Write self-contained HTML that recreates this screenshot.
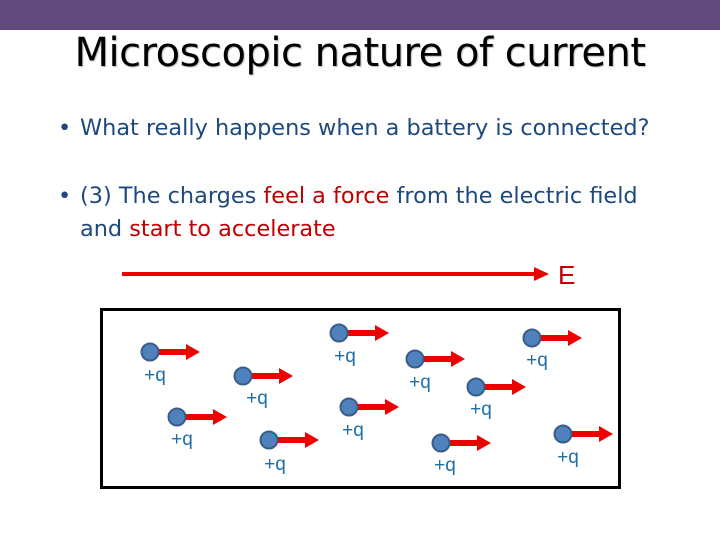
<!DOCTYPE html>
<html><head><style>
body{margin:0;width:720px;height:540px;background:#fff;position:relative;overflow:hidden;font-family:"Liberation Sans",sans-serif}
.bar{position:absolute;left:0;top:0;width:720px;height:30px;background:#604a7b}
.t{position:absolute;left:0;width:720px;top:30px;text-align:center;font-size:40px;color:#000;font-family:"DejaVu Sans","Liberation Sans",sans-serif;letter-spacing:-0.5px;text-shadow:1px 1px 1px #bbb}
.b{position:absolute;font-size:22.4px;color:#1f497d;font-family:"DejaVu Sans","Liberation Sans",sans-serif;line-height:33px}
.r{color:#c00000}
.d{position:absolute;left:-22px}
</style></head><body>
<div class="bar"></div>
<div class="t">Microscopic nature of current</div>
<div class="b" style="left:80px;top:112px"><span class="d">•</span>What really happens when a battery is connected?</div>
<div class="b" style="left:80px;top:180px"><span class="d">•</span>(3) The charges <span class="r">feel a force</span> from the electric field<br>and <span class="r">start to accelerate</span></div>
<svg width="720" height="540" style="position:absolute;left:0;top:0">
<defs><g id="c">
<rect x="8" y="-3" width="32" height="6" fill="#e00"/>
<polygon points="36,-8 50,0 36,8" fill="#e00"/>
<circle r="8.5" fill="#4f81bd" stroke="#385d8a" stroke-width="2"/>
</g></defs>
<line x1="122" y1="274" x2="536" y2="274" stroke="#e00" stroke-width="4"/>
<polygon points="534,267 549,274 534,281" fill="#e00"/>
<text x="558" y="284" font-size="26" fill="#c00000" font-family="Liberation Sans,sans-serif">E</text>
<rect x="101.5" y="309.5" width="518" height="178" fill="none" stroke="#000" stroke-width="3"/>
<g font-size="19" fill="#1f6fa5" font-family="Liberation Sans,sans-serif" text-anchor="middle">
<use href="#c" x="150" y="352"/><text x="155" y="381">+q</text>
<use href="#c" x="177" y="417"/><text x="182" y="445">+q</text>
<use href="#c" x="243" y="376"/><text x="257" y="404">+q</text>
<use href="#c" x="269" y="440"/><text x="275" y="470">+q</text>
<use href="#c" x="339" y="333"/><text x="345" y="362">+q</text>
<use href="#c" x="349" y="407"/><text x="353" y="436">+q</text>
<use href="#c" x="415" y="359"/><text x="420" y="388">+q</text>
<use href="#c" x="476" y="387"/><text x="481" y="415">+q</text>
<use href="#c" x="532" y="338"/><text x="537" y="366">+q</text>
<use href="#c" x="441" y="443"/><text x="445" y="471">+q</text>
<use href="#c" x="563" y="434"/><text x="568" y="463">+q</text>
</g>
</svg>
</body></html>
